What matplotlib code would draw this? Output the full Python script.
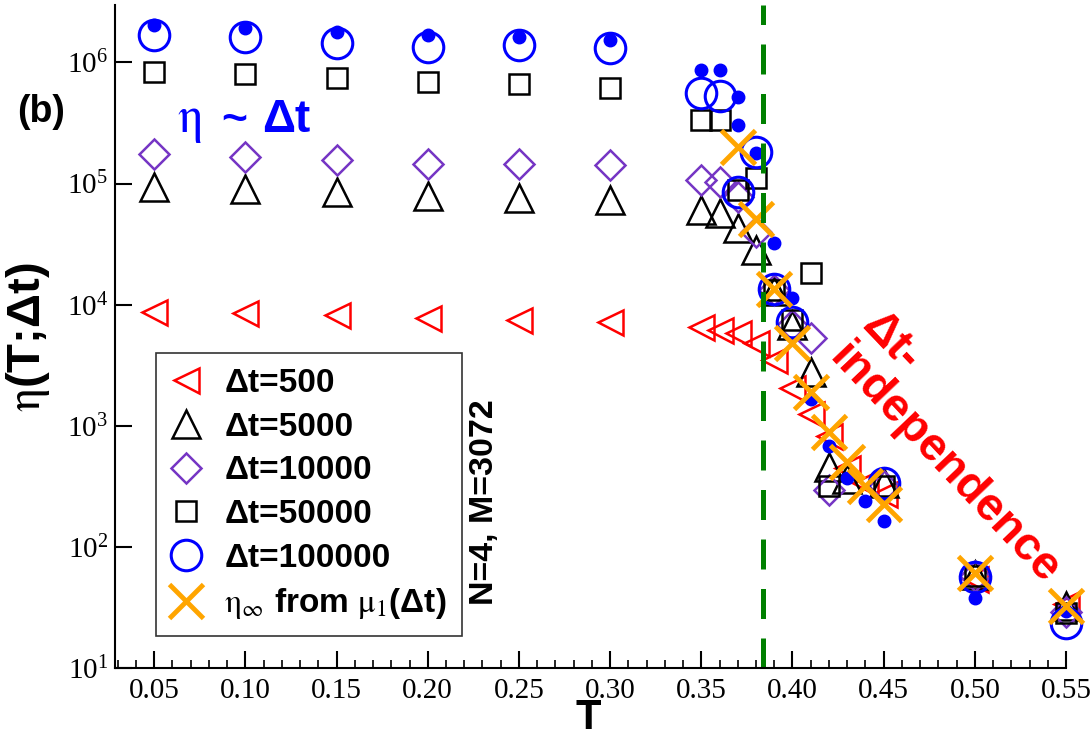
import matplotlib
matplotlib.use("Agg")
import matplotlib.pyplot as plt
from matplotlib.ticker import LogLocator, LogFormatterMathtext, MultipleLocator, NullLocator
from matplotlib.font_manager import FontProperties

plt.rcParams['font.family'] = ['Liberation Serif', 'DejaVu Serif']
plt.rcParams['mathtext.fontset'] = 'stix'

# temperatures
T_low = [0.05, 0.10, 0.15, 0.20, 0.25, 0.30]
T_500 = T_low + [0.35, 0.36, 0.37, 0.38, 0.39, 0.40, 0.41, 0.42, 0.43, 0.44, 0.45, 0.50, 0.55]
T_5000 = T_low + [0.35, 0.36, 0.37, 0.38, 0.39, 0.40, 0.41, 0.42, 0.43, 0.45, 0.50, 0.55]
T_10000 = T_low + [0.35, 0.36, 0.37, 0.38, 0.39, 0.40, 0.41, 0.42, 0.45, 0.50, 0.55]
T_50000 = T_low + [0.35, 0.36, 0.37, 0.38, 0.39, 0.40, 0.41, 0.42, 0.45, 0.50, 0.55]
T_100000 = T_low + [0.35, 0.36, 0.37, 0.38, 0.39, 0.40, 0.45, 0.50, 0.55]
T_dots = T_low + [0.35, 0.36, 0.37, 0.37, 0.38, 0.39, 0.40, 0.41, 0.42, 0.43, 0.44, 0.45, 0.50, 0.55]
T_inf = [0.37, 0.38, 0.39, 0.40, 0.41, 0.42, 0.43, 0.44, 0.45, 0.50, 0.55]

# eta(T; dt)
eta_500 = [8650, 8490, 8170, 7720, 7430, 7160, 6500, 6150, 5810, 4800, 3470, 2040,
           1260, 830, 444, 334, 275, 54.7, 34]
eta_5000 = [93800, 90400, 85300, 78500, 75700, 72800, 60300, 56900, 42800, 28100,
            12900, 6740, 2760, 460, 366, 340, 59, 32.7]
eta_10000 = [174000, 166000, 156000, 146000, 145000, 142000, 107000, 103000, 77100,
             39600, 13100, 6740, 5270, 293, 321, 57, 29]
eta_50000 = [836000, 810000, 738000, 692000, 662000, 614000, 334000, 334000, 88000,
             111000, 13100, 7410, 18200, 321, 321, 57, 28.6]
eta_100000 = [1.68e6, 1.61e6, 1.46e6, 1.35e6, 1.38e6, 1.31e6, 5.57e5, 5.26e5, 8.47e4,
              1.82e5, 1.34e4, 7140, 334, 56.9, 23.7]
eta_dots = [2.03e6, 1.91e6, 1.79e6, 1.68e6, 1.62e6, 1.53e6, 8.63e5, 8.63e5, 5.16e5,
            3.03e5, 1.78e5, 3.21e4, 1.13e4, 1650, 687, 373, 241, 165, 38, 29.7]
eta_inf = [2.0e5, 5.07e4, 1.34e4, 4800, 1890, 881, 498, 321, 228, 61.4, 32.2]

T_c = 0.384

W, H = 1092, 739
fig = plt.figure(figsize=(W / 100, H / 100), dpi=100)
ax = fig.add_axes([115 / W, 1 - 668 / H, 951 / W, 663 / H])


def fpos(x, y):
    return x / W, 1 - y / H


purple = '#7535c4'
style = dict(ls='none', mfc='none', clip_on=False)
ax.plot(T_500, eta_500, marker='<', ms=18, mec='red', mew=1.8, label='Δt=500', **style)
ax.plot(T_5000, eta_5000, marker='^', ms=20, mec='black', mew=1.8, label='Δt=5000', **style)
ax.plot(T_10000, eta_10000, marker='D', ms=15, mec=purple, mew=1.8, label='Δt=10000', **style)
ax.plot(T_50000, eta_50000, marker='s', ms=15, mec='black', mew=1.8, label='Δt=50000', **style)
ax.plot(T_100000, eta_100000, marker='o', ms=22, mec='blue', mew=2.2, label='Δt=100000', **style)
ax.plot(T_dots, eta_dots, ls='none', marker='o', ms=9, color='blue', clip_on=False)
ax.plot(T_inf, eta_inf, ls='none', marker='x', ms=24, mec='orange', mew=3.5, clip_on=False,
        label=r'$\mathrm{\eta_\infty}$ from $\mathrm{\mu_1}$(Δt)')

ax.axvline(T_c, color='#008000', lw=3.6, dashes=(6, 3.9))

ax.set_yscale('log')
ax.set_xlim(0.0285, 0.55)
ax.set_ylim(10, 2.98e6)
ax.xaxis.set_major_locator(MultipleLocator(0.05))
ax.xaxis.set_minor_locator(MultipleLocator(0.01))
ax.xaxis.set_major_formatter(plt.FuncFormatter(lambda v, p: f'{v:.2f}'))
ax.yaxis.set_major_locator(LogLocator(base=10, numticks=10))
ax.yaxis.set_major_formatter(LogFormatterMathtext())
ax.yaxis.set_minor_locator(NullLocator())

for side in ['top', 'right']:
    ax.spines[side].set_visible(False)
for side in ['left', 'bottom']:
    ax.spines[side].set_linewidth(1.5)
ax.tick_params(which='major', direction='in', length=12, width=1.5, labelsize=21)
ax.tick_params(which='minor', direction='in', length=6, width=1.2)
ax.tick_params(axis='x', pad=7)
ax.tick_params(axis='y', pad=5)

sans = ['Liberation Sans', 'DejaVu Sans']
ax.set_xlabel('T', family=sans, weight='bold', fontsize=30, va='baseline')
ax.xaxis.set_label_coords((588 - 115) / 951, (668 - 729) / 663)
ax.set_ylabel(r'$\mathrm{\eta}$(T;Δt)', family=sans, weight='bold', fontsize=34, va='center')
ax.yaxis.set_label_coords((28 - 115) / 951, (668 - 337) / 663)

leg = ax.legend(loc='upper left', bbox_to_anchor=((156 - 115) / 951, (668 - 353) / 663),
                borderaxespad=0, prop=FontProperties(family=sans, weight='bold', size=24),
                handlelength=0.9, handletextpad=0.7, borderpad=0.45, labelspacing=0.38,
                fancybox=False, framealpha=1, edgecolor='#333333')
leg.get_frame().set_linewidth(1.2)

fig.text(*fpos(41, 112), '(b)', family=sans, weight='bold', fontsize=27,
         ha='center', va='center')
fig.text(*fpos(177, 132), r'$\mathrm{\eta}$', fontsize=36, color='blue',
         ha='left', va='baseline')
fig.text(*fpos(221, 132), '~', family=sans, weight='bold', fontsize=32, color='blue',
         ha='left', va='baseline')
fig.text(*fpos(262, 132), 'Δt', family=sans, weight='bold', fontsize=33, color='blue',
         ha='left', va='baseline')
fig.text(*fpos(485, 502), 'N=4, M=3072', family=sans, weight='bold', fontsize=24.5,
         rotation=90, ha='center', va='center')
fig.text(*fpos(860, 327), 'Δt-', family=sans, weight='bold', fontsize=33, color='red',
         rotation=-46.5, rotation_mode='anchor', ha='left', va='baseline')
fig.text(*fpos(828, 359), 'independence', family=sans, weight='bold', fontsize=33.5,
         color='red', rotation=-46.5, rotation_mode='anchor', ha='left', va='baseline')

fig.savefig('out.png', dpi=100)
